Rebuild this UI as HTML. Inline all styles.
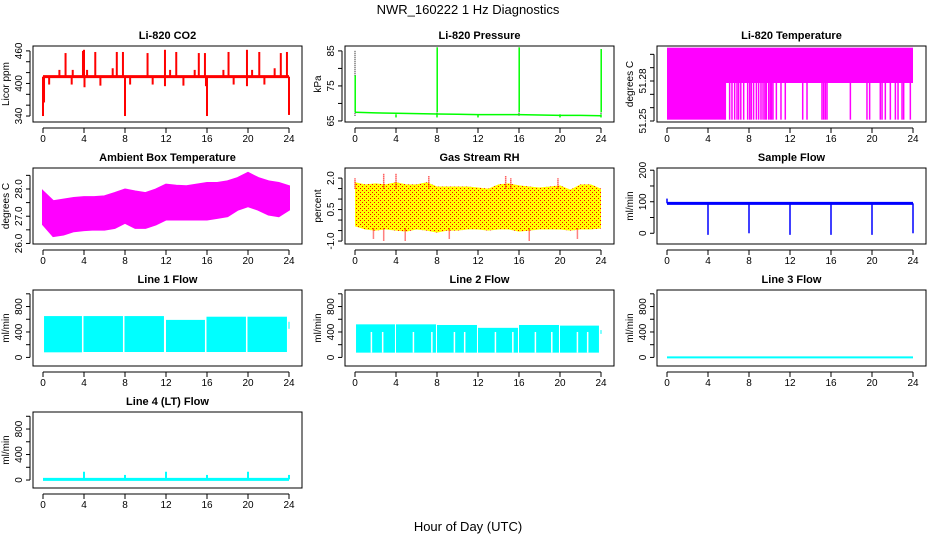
<!DOCTYPE html>
<html><head><meta charset="utf-8"><style>
html,body{margin:0;padding:0;background:#fff;}
svg{display:block;font-family:"Liberation Sans",sans-serif;}
</style></head><body>
<svg id="fig" width="936" height="540" viewBox="0 0 936 540">
<defs>
<pattern id="rhpat" width="4" height="4" patternUnits="userSpaceOnUse">
<rect width="4" height="4" fill="#ffff00"/>
<rect x="0" y="0" width="1" height="1" fill="#ff0000"/>
<rect x="2" y="2" width="1" height="1" fill="#ff0000"/>
</pattern>
</defs>
<text x="468" y="14" text-anchor="middle" font-size="13">NWR_160222  1 Hz Diagnostics</text>
<text x="468" y="531" text-anchor="middle" font-size="13">Hour of Day (UTC)</text>
</svg>
<script>
const xTicks=[0,4,8,12,16,20,24];
// CO2
const co2Base=412.5;
const co2SpikeHours=[2.2,3.9,4.0,5.1,7.2,7.8,10.2,11.9,13.0,15.2,15.8,18.1,19.9,21.1,23.2,23.8,1.6,2.9,4.3,6.8,12.4,14.8,17.6,20.4,22.6,0.0,0.1,8.0,16.0,24.0,11.9,19.9,4.05,0.6,2.8,5.6,10.7,13.7,18.6,21.6,8.5,15.9];
const co2SpikeVals=[456,460,462,458,458,458,456,462,458,456,456,458,462,458,456,458,425,425,425,428,425,425,425,425,428,340,365,340,340,342,395,395,393,398,398,396,398,396,398,398,398,395];
// Pressure
const presHours=[0,2,4,6,8,10,12,14,16,18,20,22,24];
const presVals=[67.5,67.3,67.2,67.1,67.0,66.9,66.8,66.8,66.8,66.7,66.6,66.6,66.5];
const presSpikeHours=[0,8,16,24];
const presSpikeVals=[85,86,86,85.5];
const presDipHours=[4,8,12,20,24];
const presDipVals=[66,66,66,66,66];
// Temperature
const tempHigh=51.305, tempMid=51.2785, tempLow=51.251;
const tempLowBlockEnd=5.7;
const tempSpikeHours=[5.69,6.11,6.34,6.6,6.83,6.99,7.2,7.48,7.87,8.07,8.23,8.45,8.72,8.94,9.17,9.37,9.55,9.69,9.92,10.08,10.2,10.34,10.67,11.12,11.54,13.24,13.66,15.12,15.28,15.45,15.61,17.89,19.51,19.77,20.81,20.98,21.3,21.79,22.28,22.54,22.93,23.09,23.74];
// Ambient box temperature
const ambHours=[0,1,2,3,4,5,6,7,8,9,10,11,12,13,14,15,16,17,18,19,20,21,22,23,24];
const ambMax=[27.91,27.55,27.61,27.67,27.7,27.7,27.73,27.85,27.98,27.91,27.85,27.98,28.16,28.12,28.1,28.16,28.22,28.22,28.28,28.4,28.59,28.4,28.28,28.22,28.1];
const ambMin=[26.7,26.27,26.33,26.45,26.49,26.51,26.51,26.57,26.76,26.57,26.57,26.7,26.88,26.88,26.88,26.88,26.88,26.94,27.0,27.24,27.37,27.24,27.06,27.0,27.24];
// Gas stream RH
const rhHours=ambHours;
const rhMax=[1.8,1.7,1.75,1.7,1.8,1.7,1.7,1.8,1.6,1.6,1.6,1.6,1.55,1.5,1.7,1.75,1.65,1.6,1.55,1.6,1.65,1.45,1.7,1.7,1.5];
const rhMin=[-0.3,-0.45,-0.5,-0.45,-0.5,-0.55,-0.45,-0.5,-0.6,-0.5,-0.5,-0.45,-0.45,-0.5,-0.45,-0.45,-0.55,-0.5,-0.45,-0.45,-0.45,-0.5,-0.45,-0.45,-0.4];
const rhSpikeHours=[0.0,2.8,4.0,7.2,14.7,15.2,19.8,2.8,4.9,9.2,17.0,21.7,1.8];
const rhSpikeVals=[2.0,2.2,2.2,2.1,2.1,2.0,2.0,-1.0,-1.0,-0.9,-1.0,-0.9,-0.9];
// Sample flow
const sfBase=95;
const sfDropHours=[4,8,12,16,20,24];
const sfDropVals=[-5,0,-5,-5,-5,0];
// Line flows (blocks)
const l1Start=[0.1,3.95,7.95,12.0,15.95,19.95,23.95];
const l1End=[3.8,7.8,11.8,15.8,19.8,23.8,24.05];
const l1Top=[650,650,650,590,640,640,560];
const l1Bot=[80,85,85,85,85,85,450];
const l2Start=[0.1,4.0,8.0,12.0,16.0,20.0,23.95];
const l2End=[3.9,7.9,11.9,15.9,19.9,23.8,24.05];
const l2Top=[520,520,510,465,510,500,430];
const l2Bot=[75,75,75,75,75,75,370];
const l2GapHours=[1.6,2.7,5.7,7.5,9.7,10.7,13.7,15.4,17.6,19.2,21.7,22.7];
const l2GapTop=400;
const l3Val=0;
const l4Base=10;
const l4SpikeHours=[4,8,12,16,20,24];
const l4SpikeVals=[130,80,130,80,130,80];

const svg=document.getElementById('fig');
const NS='http://www.w3.org/2000/svg';
function mk(tag,attrs,parent){const e=document.createElementNS(NS,tag);for(const k in attrs)e.setAttribute(k,attrs[k]);(parent||svg).appendChild(e);return e;}

function panel(name,row,col,title,ylab,vTop,vBot,ticks,labels){
  const L=33+312*col,R=302+312*col,T=46+122*row,B=122+122*row;
  const g=mk('g',{});
  
  
  const X=h=>43+312*col+h*10.25;
  const Y=v=>T+(vTop-v)/(vTop-vBot)*(B-T);
  const t=mk('text',{x:(L+R)/2,y:T-7,'text-anchor':'middle','font-size':11,'font-weight':'bold'},g);t.textContent=title;
  
  
  const yl=mk('text',{x:0,y:0,'text-anchor':'middle','font-size':10,transform:`translate(${L-24},${(T+B)/2}) rotate(-90)`},g);yl.textContent=ylab;
  
  
  const plot=mk('g',{},g);
  
  
  const ax=mk('g',{stroke:'#000','stroke-width':1},g);
  
  
  mk('rect',{x:L,y:T,width:R-L,height:B-T,fill:'none'},ax);
  mk('line',{x1:X(0),x2:X(24),y1:B+6,y2:B+6},ax);
  xTicks.forEach(h=>{
    mk('line',{x1:X(h),x2:X(h),y1:B+6,y2:B+11},ax);
    const tx=mk('text',{x:X(h),y:B+20,'text-anchor':'middle','font-size':10,stroke:'none',fill:'#000'},g);tx.textContent=h;
    
    
  });
  mk('line',{x1:L-3,x2:L-3,y1:Y(ticks[0]),y2:Y(ticks[ticks.length-1])},ax);
  ticks.forEach(v=>mk('line',{x1:L-7,x2:L-3,y1:Y(v),y2:Y(v)},ax));
  labels.forEach(lb=>{
    const tx=mk('text',{x:0,y:0,'text-anchor':'middle','font-size':10,transform:`translate(${L-11},${Y(parseFloat(lb))}) rotate(-90)`},g);tx.textContent=lb;
    
    
  });
  return {X,Y,plot};
}
function vline(p,h,v1,v2,color,w,extra){const a={x1:p.X(h),x2:p.X(h),y1:p.Y(v1),y2:p.Y(v2),stroke:color,'stroke-width':w||1};Object.assign(a,extra||{});return mk('line',a,p.plot);}

// CO2
let p=panel('co2',0,0,'Li-820 CO2','Licor ppm',469,329,[340,360,380,400,420,440,460],['340','400','460']);
co2SpikeHours.forEach((h,i)=>vline(p,h,co2Base,co2SpikeVals[i],'#ff0000',2));
mk('line',{x1:p.X(0),x2:p.X(24),y1:p.Y(co2Base),y2:p.Y(co2Base),stroke:'#ff0000','stroke-width':3},p.plot);

// Pressure
p=panel('pressure',0,1,'Li-820 Pressure','kPa',86.4,64.7,[65,70,75,80,85],['65','75','85']);
presSpikeHours.forEach((h,i)=>vline(p,h,presVals[0]-1,presSpikeVals[i],'#000',1,{'stroke-dasharray':'1,1'}));
presSpikeHours.forEach((h,i)=>vline(p,h+0.02,presVals[0],i==0?78:presSpikeVals[i],'#00ff00',1.5));
presDipHours.forEach((h,i)=>vline(p,h,66.9,presDipVals[i],'#00ff00',1.5));
mk('polyline',{points:presHours.map((h,i)=>p.X(h)+','+p.Y(presVals[i])).join(' '),fill:'none',stroke:'#00ff00','stroke-width':1.5},p.plot);

// Temperature
p=panel('li820-temperature',0,2,'Li-820 Temperature','degrees C',51.30625,51.24925,[51.25,51.26,51.27,51.28,51.29,51.30],['51.25','51.28']);
mk('rect',{x:p.X(0),y:p.Y(tempHigh),width:p.X(24)-p.X(0),height:p.Y(tempMid)-p.Y(tempHigh),fill:'#ff00ff'},p.plot);
mk('rect',{x:p.X(0),y:p.Y(tempMid),width:p.X(tempLowBlockEnd)-p.X(0),height:p.Y(tempLow)-p.Y(tempMid),fill:'#ff00ff'},p.plot);
tempSpikeHours.forEach(h=>vline(p,h,tempMid,tempLow,'#ff00ff',1.5));

// Ambient
p=panel('ambient-temperature',1,0,'Ambient Box Temperature','degrees C',28.77,25.98,[26,26.5,27,27.5,28,28.5],['26.0','27.0','28.0']);
mk('polygon',{points:ambHours.map((h,i)=>p.X(h)+','+p.Y(ambMax[i])).concat(ambHours.slice().reverse().map((h,j)=>{const i=ambHours.length-1-j;return p.X(h)+','+p.Y(ambMin[i]);})).join(' '),fill:'#ff00ff',stroke:'#ff00ff','stroke-width':2},p.plot);

// RH
p=panel('gas-stream-rh',1,1,'Gas Stream RH','percent',2.48,-1.14,[-1,-0.5,0,0.5,1,1.5,2],['-1.0','0.5','2.0']);
mk('polygon',{points:rhHours.map((h,i)=>p.X(h)+','+p.Y(rhMax[i])).concat(rhHours.slice().reverse().map((h,j)=>{const i=rhHours.length-1-j;return p.X(h)+','+p.Y(rhMin[i]);})).join(' '),fill:'url(#rhpat)'},p.plot);
rhSpikeHours.forEach((h,i)=>vline(p,h,rhSpikeVals[i]>0?1.5:-0.4,rhSpikeVals[i],'#ff0000',1.5,{'stroke-dasharray':'1,1'}));

// Sample flow
p=panel('sample-flow',1,2,'Sample Flow','ml/min',207,-34,[0,50,100,150,200],['0','100','200']);
mk('line',{x1:p.X(0),x2:p.X(24),y1:p.Y(sfBase),y2:p.Y(sfBase),stroke:'#0000ff','stroke-width':3},p.plot);
vline(p,0,sfBase,110,'#0000ff',1.5);
sfDropHours.forEach((h,i)=>vline(p,h,sfBase,sfDropVals[i],'#0000ff',1.5));

// Line flows
const flowTicks=[0,200,400,600,800,1000],flowLabels=['0','400','800'];
p=panel('line1-flow',2,0,'Line 1 Flow','ml/min',1060,-135,flowTicks,flowLabels);
l1Start.forEach((s,i)=>mk('rect',{x:p.X(s),y:p.Y(l1Top[i]),width:p.X(l1End[i])-p.X(s),height:p.Y(l1Bot[i])-p.Y(l1Top[i]),fill:'#00ffff'},p.plot));
p=panel('line2-flow',2,1,'Line 2 Flow','ml/min',1060,-135,flowTicks,flowLabels);
l2Start.forEach((s,i)=>mk('rect',{x:p.X(s),y:p.Y(l2Top[i]),width:p.X(l2End[i])-p.X(s),height:p.Y(l2Bot[i])-p.Y(l2Top[i]),fill:'#00ffff'},p.plot));
l2GapHours.forEach(h=>vline(p,h,l2GapTop,75,'#ffffff',1.5));
p=panel('line3-flow',2,2,'Line 3 Flow','ml/min',1060,-135,flowTicks,flowLabels);
mk('line',{x1:p.X(0),x2:p.X(24),y1:p.Y(l3Val),y2:p.Y(l3Val),stroke:'#00ffff','stroke-width':2},p.plot);
p=panel('line4-flow',3,0,'Line 4 (LT) Flow','ml/min',1067,-125,flowTicks,flowLabels);
mk('line',{x1:p.X(0),x2:p.X(24),y1:p.Y(l4Base),y2:p.Y(l4Base),stroke:'#00ffff','stroke-width':3},p.plot);
l4SpikeHours.forEach((h,i)=>vline(p,h,l4Base,l4SpikeVals[i],'#00ffff',2));
</script>
</body></html>
